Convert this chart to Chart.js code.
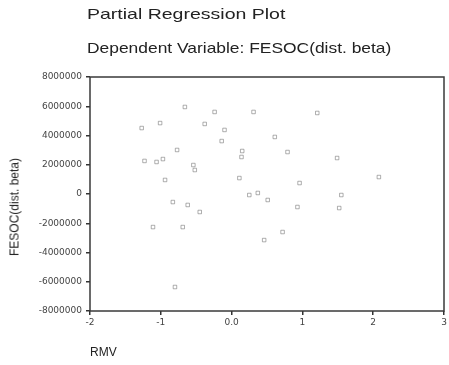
<!DOCTYPE html>
<html>
<head>
<meta charset="utf-8">
<script src="https://cdn.jsdelivr.net/npm/chart.js@4.4.0/dist/chart.umd.min.js"></script>
<style>
  body { margin: 0; background: #fff; }
  #wrap { position: relative; width: 449px; height: 365px; overflow: hidden; }
  #plot { position: absolute; left: 0; top: 0; }
  .txt { position: absolute; font-family: "Liberation Sans", Arial, sans-serif; color: #222; white-space: nowrap; transform-origin: 0 0; line-height: 15px; }
  #title { left: 87px; top: 6px; font-size: 15px; transform: scaleX(1.3); }
  #subtitle { left: 87px; top: 40px; font-size: 15px; transform: scaleX(1.16); }
  #xlabel { left: 90px; top: 345px; font-size: 12px; }
  #ylabel { left: 15px; top: 207px; font-size: 12px; transform: translate(-50%, -50%) rotate(-90deg); transform-origin: 50% 50%; }
</style>
</head>
<body>
<div id="wrap">
  <canvas id="plot" width="449" height="365"></canvas>
  <div class="txt" id="title">Partial Regression Plot</div>
  <div class="txt" id="subtitle">Dependent Variable: FESOC(dist. beta)</div>
  <div class="txt" id="ylabel">FESOC(dist. beta)</div>
  <div class="txt" id="xlabel">RMV</div>
</div>
<script>
// RMV residuals (x) and FESOC(dist. beta) residuals (y)
var rmv = [-0.66, -0.24, 0.31, 1.21, -1.27, -1.01, -0.38, -0.10, -0.14, 0.61,
  -0.77, 0.15, 0.14, 0.79, -1.23, -1.06, -0.97, -0.54, -0.52, 1.49,
  -0.94, 0.11, 0.96, 2.08, 0.25, 0.37, 1.55, 0.51, -0.83, -0.62,
  -0.45, 0.93, 1.52, -1.11, -0.69, 0.72, 0.46, -0.80];
var fesoc = [5950000, 5610000, 5610000, 5540000, 4510000, 4850000, 4790000, 4380000, 3620000, 3900000,
  3010000, 2940000, 2530000, 2870000, 2260000, 2190000, 2390000, 1980000, 1640000, 2460000,
  960000, 1090000, 750000, 1160000, -70000, 70000, -70000, -410000, -550000, -750000,
  -1230000, -890000, -960000, -2260000, -2260000, -2600000, -3150000, -6360000];

var xTicks = [-2, -1, 0, 1, 2, 3];
var xTickLabels = ['-2', '-1', '0.0', '1', '2', '3'];
var yTicks = [-8000000, -6000000, -4000000, -2000000, 0, 2000000, 4000000, 6000000, 8000000];

var points = rmv.map(function (v, i) { return { x: v, y: fesoc[i] }; });

var frame = {
  id: 'frame',
  afterDraw: function (chart) {
    var a = chart.chartArea, ctx = chart.ctx;
    ctx.save();
    ctx.strokeStyle = '#3a3a3a';
    ctx.lineWidth = 1.5;
    ctx.strokeRect(a.left, a.top, a.right - a.left, a.bottom - a.top);
    ctx.restore();
  }
};

var ctx = document.getElementById('plot').getContext('2d');
var chart = new Chart(ctx, {
  type: 'scatter',
  data: {
    datasets: [{
      data: points,
      pointStyle: 'rect',
      pointRadius: 2.5,
      borderWidth: 1,
      borderColor: 'rgba(110,110,110,0.55)',
      backgroundColor: 'rgba(255,255,255,0)'
    }]
  },
  options: {
    responsive: false,
    animation: false,
    layout: { padding: { left: 0, right: 4, top: 77, bottom: 0 } },
    plugins: { legend: { display: false }, tooltip: { enabled: false } },
    scales: {
      x: {
        type: 'linear',
        min: -2, max: 3,
        afterFit: function (s) { s.height = 54; },
        afterBuildTicks: function (s) { s.ticks = xTicks.map(function (v) { return { value: v }; }); },
        ticks: {
          color: '#444',
          padding: 2,
          maxRotation: 0,
          font: { family: 'DejaVu Sans', size: 9 },
          callback: function (v) { return xTickLabels[xTicks.indexOf(v)]; }
        },
        grid: { drawOnChartArea: false, drawTicks: true, tickLength: 4, color: '#333', lineWidth: 1.5 },
        border: { display: false }
      },
      y: {
        type: 'linear',
        min: -8000000, max: 8000000,
        afterFit: function (s) { s.width = 90; },
        afterBuildTicks: function (s) { s.ticks = yTicks.map(function (v) { return { value: v }; }); },
        ticks: {
          color: '#444',
          padding: 4,
          font: { family: 'DejaVu Sans', size: 9 },
          callback: function (v) { return String(v); }
        },
        grid: { drawOnChartArea: false, drawTicks: true, tickLength: 4, color: '#333', lineWidth: 1.5 },
        border: { display: false }
      }
    }
  },
  plugins: [frame]
});
</script>
</body>
</html>
